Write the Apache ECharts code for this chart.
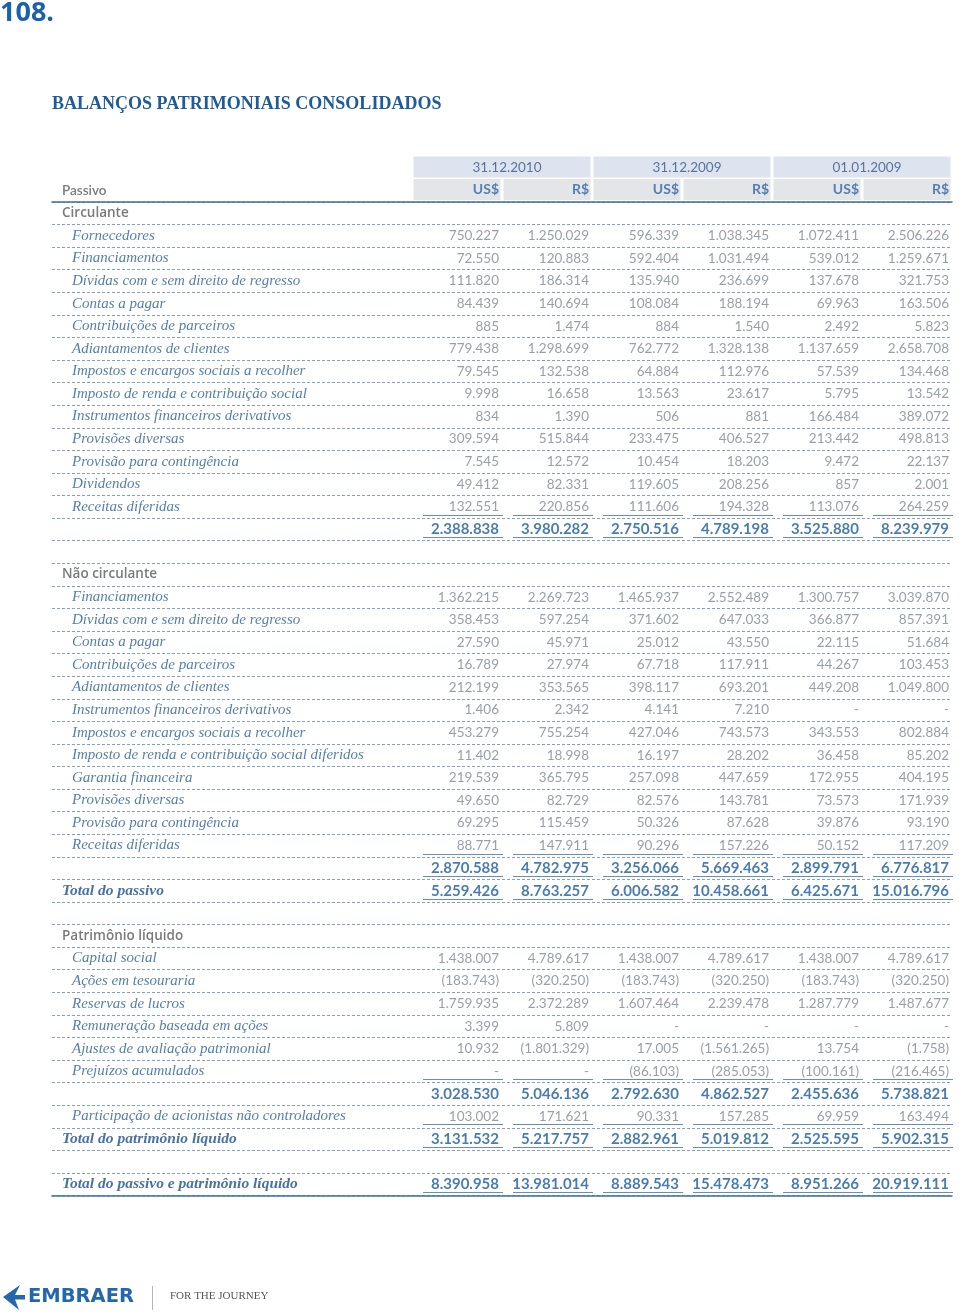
<!DOCTYPE html>
<html lang="pt-BR">
<head>
<meta charset="utf-8">
<title>Balanços patrimoniais consolidados</title>
<script src="https://cdn.jsdelivr.net/npm/echarts@6/dist/echarts.min.js"></script>
<style>
  html, body { margin: 0; padding: 0; background: #fff; }
  #chart { width: 960px; height: 1314px; }
</style>
</head>
<body>
<div id="chart"></div>
<script>
// cabeçalho
const years = ['31.12.2010', '31.12.2009', '01.01.2009'];
const currencies = ['US$', 'R$'];

// linhas da tabela (passivo)
const rowLabels = [
  'Circulante',
  'Fornecedores',
  'Financiamentos',
  'Dívidas com e sem direito de regresso',
  'Contas a pagar',
  'Contribuições de parceiros',
  'Adiantamentos de clientes',
  'Impostos e encargos sociais a recolher',
  'Imposto de renda e contribuição social',
  'Instrumentos financeiros derivativos',
  'Provisões diversas',
  'Provisão para contingência',
  'Dividendos',
  'Receitas diferidas',
  '',
  '',
  'Não circulante',
  'Financiamentos',
  'Dívidas com e sem direito de regresso',
  'Contas a pagar',
  'Contribuições de parceiros',
  'Adiantamentos de clientes',
  'Instrumentos financeiros derivativos',
  'Impostos e encargos sociais a recolher',
  'Imposto de renda e contribuição social diferidos',
  'Garantia financeira',
  'Provisões diversas',
  'Provisão para contingência',
  'Receitas diferidas',
  '',
  'Total do passivo',
  '',
  'Patrimônio líquido',
  'Capital social',
  'Ações em tesouraria',
  'Reservas de lucros',
  'Remuneração baseada em ações',
  'Ajustes de avaliação patrimonial',
  'Prejuízos acumulados',
  '',
  'Participação de acionistas não controladores',
  'Total do patrimônio líquido',
  '',
  'Total do passivo e patrimônio líquido'
];

const sectionRows = [0, 16, 32];
const subtotalRows = [14, 29, 39];
const totalRows = [30, 41, 43];
const underlinedRows = [13, 14, 28, 29, 30, 38, 40, 41, 43];

// valores em milhares (null = célula vazia, 0 = "-")
const usd2010 = [null, 750227, 72550, 111820, 84439, 885, 779438, 79545, 9998, 834, 309594, 7545, 49412, 132551,
  2388838, null, null,
  1362215, 358453, 27590, 16789, 212199, 1406, 453279, 11402, 219539, 49650, 69295, 88771,
  2870588, 5259426, null, null,
  1438007, -183743, 1759935, 3399, 10932, 0,
  3028530, 103002, 3131532, null, 8390958];
const brl2010 = [null, 1250029, 120883, 186314, 140694, 1474, 1298699, 132538, 16658, 1390, 515844, 12572, 82331, 220856,
  3980282, null, null,
  2269723, 597254, 45971, 27974, 353565, 2342, 755254, 18998, 365795, 82729, 115459, 147911,
  4782975, 8763257, null, null,
  4789617, -320250, 2372289, 5809, -1801329, 0,
  5046136, 171621, 5217757, null, 13981014];
const usd2009 = [null, 596339, 592404, 135940, 108084, 884, 762772, 64884, 13563, 506, 233475, 10454, 119605, 111606,
  2750516, null, null,
  1465937, 371602, 25012, 67718, 398117, 4141, 427046, 16197, 257098, 82576, 50326, 90296,
  3256066, 6006582, null, null,
  1438007, -183743, 1607464, 0, 17005, -86103,
  2792630, 90331, 2882961, null, 8889543];
const brl2009 = [null, 1038345, 1031494, 236699, 188194, 1540, 1328138, 112976, 23617, 881, 406527, 18203, 208256, 194328,
  4789198, null, null,
  2552489, 647033, 43550, 117911, 693201, 7210, 743573, 28202, 447659, 143781, 87628, 157226,
  5669463, 10458661, null, null,
  4789617, -320250, 2239478, 0, -1561265, -285053,
  4862527, 157285, 5019812, null, 15478473];
const usdJan2009 = [null, 1072411, 539012, 137678, 69963, 2492, 1137659, 57539, 5795, 166484, 213442, 9472, 857, 113076,
  3525880, null, null,
  1300757, 366877, 22115, 44267, 449208, 0, 343553, 36458, 172955, 73573, 39876, 50152,
  2899791, 6425671, null, null,
  1438007, -183743, 1287779, 0, 13754, -100161,
  2455636, 69959, 2525595, null, 8951266];
const brlJan2009 = [null, 2506226, 1259671, 321753, 163506, 5823, 2658708, 134468, 13542, 389072, 498813, 22137, 2001, 264259,
  8239979, null, null,
  3039870, 857391, 51684, 103453, 1049800, 0, 802884, 85202, 404195, 171939, 93190, 117209,
  6776817, 15016796, null, null,
  4789617, -320250, 1487677, 0, -1758, -216465,
  5738821, 163494, 5902315, null, 20919111];

const valueColumns = [usd2010, brl2010, usd2009, brl2009, usdJan2009, brlJan2009];

// 4 faixas para o texto das linhas, depois as 6 colunas de valores
const FIRST_COL = 4;
const slots = ['d1', 'd2', 'd3', 'd4'].concat(valueColumns.map((_, i) => 'v' + i));
const rowIds = rowLabels.map((_, i) => String(i));

const BLUE = '#1d5b9c';
const LABEL_BLUE = '#2a5f93';
const GRAY_TEXT = '#58595b';
const VALUE_GRAY = '#7d8893';

function fmt(v) {
  if (v === null) return '';
  if (v === 0) return '-';
  const s = Math.abs(v).toString().replace(/\B(?=(\d{3})+(?!\d))/g, '.');
  return v < 0 ? '(' + s + ')' : s;
}

const chart = echarts.init(document.getElementById('chart'));

// fundos do cabeçalho
const headerCells = [];
years.forEach((y, i) => headerCells.push([FIRST_COL + i * 2, 0, 2]));
valueColumns.forEach((_, i) => headerCells.push([FIRST_COL + i, 1, 1]));

// textos do cabeçalho
const headerTexts = [];
years.forEach((y, i) => headerTexts.push({
  name: y, value: [FIRST_COL + i * 2, 0],
  label: { align: 'center', offset: [50, 0], fontSize: 13.5, color: '#345a86' }
}));
valueColumns.forEach((_, i) => headerTexts.push({
  name: currencies[i % 2], value: [FIRST_COL + i, 1],
  label: { align: 'right', offset: [42, 0], fontSize: 14, fontWeight: 'bold', color: '#2f67a6' }
}));
headerTexts.push({
  name: 'Passivo', value: [0, 1],
  label: { align: 'left', offset: [-35, 1], fontSize: 13.5, fontWeight: 600, color: GRAY_TEXT }
});

// rótulos das linhas
const labelData = [];
rowLabels.forEach((name, r) => {
  if (!name) return;
  let label;
  if (sectionRows.includes(r)) {
    label = { offset: [-35, 0], fontFamily: 'Open Sans', fontSize: 13.5, fontWeight: 600, color: GRAY_TEXT };
  } else if (totalRows.includes(r)) {
    label = { offset: [-35, 0], fontFamily: 'Liberation Serif', fontStyle: 'italic', fontWeight: 'bold', fontSize: 15.5, color: '#1b4f88' };
  } else {
    label = { offset: [-25, 0], fontFamily: 'Liberation Serif', fontStyle: 'italic', fontSize: 15, color: LABEL_BLUE };
  }
  label.align = 'left';
  labelData.push({ name: name, value: [0, r], label: label });
});

// valores
const valueData = [];
const totalData = [];
valueColumns.forEach((col, c) => {
  col.forEach((v, r) => {
    if (v === null) return;
    const item = { name: fmt(v), value: [FIRST_COL + c, r] };
    if (subtotalRows.includes(r) || totalRows.includes(r)) totalData.push(item);
    else valueData.push(item);
  });
});

// sublinhados das células
const underlineData = [];
underlinedRows.forEach(r => valueColumns.forEach((_, c) => underlineData.push([FIRST_COL + c, r])));

const textSeries = (name, xi, yi, data, label) => ({
  name: name,
  type: 'scatter',
  xAxisIndex: xi,
  yAxisIndex: yi,
  symbolSize: 1,
  silent: true,
  itemStyle: { color: 'rgba(0,0,0,0)' },
  label: Object.assign({
    show: true,
    position: 'inside',
    formatter: p => p.name,
    fontFamily: 'Lato',
    verticalAlign: 'middle'
  }, label),
  data: data,
  z: 5
});

const option = {
  animation: false,
  textStyle: { fontFamily: 'Open Sans' },
  grid: [
    { left: 52, top: 156, width: 900, height: 45 },
    { left: 52, top: 202, width: 900, height: 993.5 }
  ],
  xAxis: [
    { gridIndex: 0, type: 'category', data: slots, show: false },
    {
      gridIndex: 1, type: 'category', data: slots, position: 'top',
      axisLine: { show: true, lineStyle: { color: '#3b6fa5', width: 1.5 } },
      axisTick: { show: false }, axisLabel: { show: false }, splitLine: { show: false }
    },
    {
      gridIndex: 1, type: 'category', data: slots, position: 'bottom',
      axisLine: { show: true, lineStyle: { color: '#3b6fa5', width: 1.5 } },
      axisTick: { show: false }, axisLabel: { show: false }, splitLine: { show: false }
    }
  ],
  yAxis: [
    { gridIndex: 0, type: 'category', data: ['data', 'moeda'], inverse: true, show: false },
    {
      gridIndex: 1, type: 'category', data: rowIds, inverse: true,
      axisLine: { show: false }, axisTick: { show: false }, axisLabel: { show: false },
      splitLine: { show: true, lineStyle: { type: [3, 2], color: '#86a1c0', width: 1 } }
    }
  ],
  series: [
    {
      name: 'cabecalho',
      type: 'custom',
      xAxisIndex: 0,
      yAxisIndex: 0,
      silent: true,
      renderItem: (params, api) => {
        const c = api.coord([api.value(0), api.value(1)]);
        const s = api.size([1, 1]);
        const span = api.value(2);
        return {
          type: 'rect',
          shape: { x: c[0] - s[0] / 2 + 1.5, y: c[1] - s[1] / 2 + 0.5, width: s[0] * span - 3, height: s[1] - 1.5 },
          style: { fill: api.value(1) === 0 ? '#dde4ef' : '#e4e5e8' }
        };
      },
      data: headerCells,
      z: 1
    },
    textSeries('cabecalho-texto', 0, 0, headerTexts, {}),
    textSeries('rotulos', 1, 1, labelData, {}),
    textSeries('valores', 1, 1, valueData, {
      align: 'right', offset: [42, 0], fontSize: 13.5, fontWeight: 'normal', color: VALUE_GRAY
    }),
    textSeries('totais', 1, 1, totalData, {
      align: 'right', offset: [42, 0], fontSize: 15, fontWeight: 'bold', color: BLUE
    }),
    {
      name: 'sublinhado',
      type: 'custom',
      xAxisIndex: 1,
      yAxisIndex: 1,
      silent: true,
      renderItem: (params, api) => {
        const c = api.coord([api.value(0), api.value(1)]);
        const s = api.size([1, 1]);
        const y = Math.round(c[1] + 8) + 0.5;
        return {
          type: 'line',
          shape: { x1: c[0] - s[0] / 2 + 11, y1: y, x2: c[0] + s[0] / 2 + 1, y2: y },
          style: { stroke: '#6a8db3', lineWidth: 1 }
        };
      },
      data: underlineData,
      z: 4
    }
  ],
  graphic: [
    {
      type: 'text', left: 0, top: 0,
      style: { text: '108.', fontFamily: 'Open Sans', fontWeight: 'bold', fontSize: 27, fill: '#1b60aa' }
    },
    {
      type: 'text', left: 52, top: 95,
      style: { text: 'BALANÇOS PATRIMONIAIS CONSOLIDADOS', fontFamily: 'Liberation Serif', fontWeight: 'bold', fontSize: 18, fill: '#1f5a9a' }
    },
    // logotipo
    {
      type: 'polygon',
      shape: { points: [[3, 1297], [20, 1285], [15, 1295], [25, 1295], [25, 1299.5], [15, 1299.5], [19, 1310]] },
      style: { fill: '#2367ae' }
    },
    {
      type: 'text', left: 28, top: 1287,
      style: { text: 'EMBRAER', fontFamily: 'DejaVu Sans', fontWeight: 'bold', fontSize: 19.5, fill: '#2367ae' }
    },
    {
      type: 'line',
      shape: { x1: 152.5, y1: 1286, x2: 152.5, y2: 1310 },
      style: { stroke: '#b5b5b5', lineWidth: 1 }
    },
    {
      type: 'text', left: 170, top: 1291,
      style: { text: 'FOR THE JOURNEY', fontFamily: 'Liberation Serif', fontSize: 11, fill: '#555' }
    }
  ]
};

chart.setOption(option);
</script>
</body>
</html>
